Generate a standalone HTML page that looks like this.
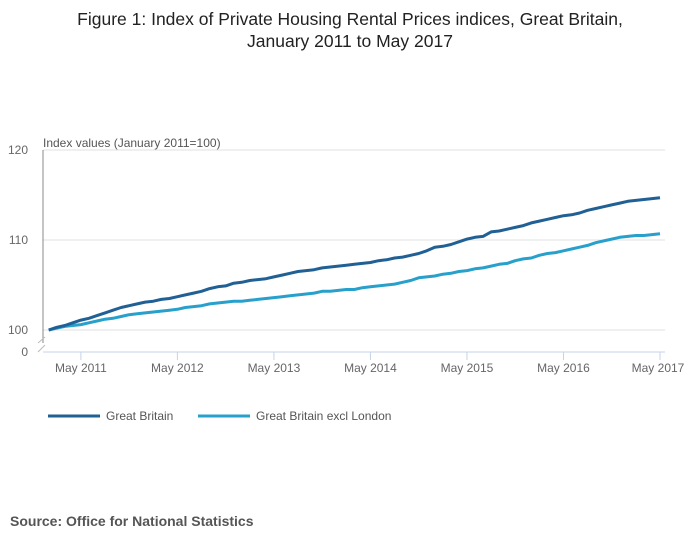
<!DOCTYPE html>
<html><head><meta charset="utf-8"><style>
body{margin:0;background:#fff;width:700px;height:549px;overflow:hidden;font-family:"Liberation Sans",sans-serif}
</style></head><body>
<svg width="700" height="549" font-family="Liberation Sans, sans-serif">
<text x="350" y="25" text-anchor="middle" font-size="17.5" fill="#222">Figure 1: Index of Private Housing Rental Prices indices, Great Britain,</text>
<text x="350" y="47" text-anchor="middle" font-size="17.5" fill="#222">January 2011 to May 2017</text>
<text x="43" y="147" font-size="12" fill="#555">Index values (January 2011=100)</text>
<g id="grid"></g>
<line x1="43" y1="150" x2="43" y2="343" stroke="#888"/>
<line x1="43" y1="352" x2="665" y2="352" stroke="#c5d3e8"/>
<path d="M38,343 L45,337 M38,352 L45,345" stroke="#bbb" fill="none"/>
<text x="28" y="356" text-anchor="end" font-size="12" fill="#666">0</text>
<g id="xt"></g>
<g id="lines"></g>
<line x1="48" y1="416" x2="100" y2="416" stroke="#206095" stroke-width="3"/>
<text x="106" y="420" font-size="12" fill="#555">Great Britain</text>
<line x1="198" y1="416" x2="250" y2="416" stroke="#27a0cc" stroke-width="3"/>
<text x="256" y="420" font-size="12" fill="#555">Great Britain excl London</text>
<text x="10" y="526" font-size="14" font-weight="bold" fill="#555">Source: Office for National Statistics</text>
</svg>
<script>
const yTicks=[100,110,120];
const xTickLabels=["May 2011","May 2012","May 2013","May 2014","May 2015","May 2016","May 2017"];
const xTickMonths=[4,16,28,40,52,64,76];
const gbValues=[100.0,100.3,100.5,100.8,101.1,101.3,101.6,101.9,102.2,102.5,102.7,102.9,
103.1,103.2,103.4,103.5,103.7,103.9,104.1,104.3,104.6,104.8,104.9,105.2,
105.3,105.5,105.6,105.7,105.9,106.1,106.3,106.5,106.6,106.7,106.9,107.0,
107.1,107.2,107.3,107.4,107.5,107.7,107.8,108.0,108.1,108.3,108.5,108.8,
109.2,109.3,109.5,109.8,110.1,110.3,110.4,110.9,111.0,111.2,111.4,111.6,
111.9,112.1,112.3,112.5,112.7,112.8,113.0,113.3,113.5,113.7,113.9,114.1,
114.3,114.4,114.5,114.6,114.7];
const exLondonValues=[100.0,100.2,100.4,100.5,100.6,100.8,101.0,101.2,101.3,101.5,101.7,101.8,
101.9,102.0,102.1,102.2,102.3,102.5,102.6,102.7,102.9,103.0,103.1,103.2,
103.2,103.3,103.4,103.5,103.6,103.7,103.8,103.9,104.0,104.1,104.3,104.3,
104.4,104.5,104.5,104.7,104.8,104.9,105.0,105.1,105.3,105.5,105.8,105.9,
106.0,106.2,106.3,106.5,106.6,106.8,106.9,107.1,107.3,107.4,107.7,107.9,
108.0,108.3,108.5,108.6,108.8,109.0,109.2,109.4,109.7,109.9,110.1,110.3,
110.4,110.5,110.5,110.6,110.7];
const NS="http://www.w3.org/2000/svg";
function xScale(m){return 48.7+m*(611.3/76);}
function yScale(v){return 330-(v-100)*9;}
const grid=document.getElementById('grid');
yTicks.forEach(v=>{
 const l=document.createElementNS(NS,'line');
 l.setAttribute('x1',43);l.setAttribute('x2',665);l.setAttribute('y1',yScale(v));l.setAttribute('y2',yScale(v));
 l.setAttribute('stroke','#e2e2e2');
 
 
 grid.appendChild(l);
 const t=document.createElementNS(NS,'text');
 t.setAttribute('x',28);t.setAttribute('y',yScale(v)+4);t.setAttribute('text-anchor','end');
 t.setAttribute('font-size','12');t.setAttribute('fill','#666');t.textContent=v;
 
 
 grid.appendChild(t);
});
const xt=document.getElementById('xt');
xTickMonths.forEach((m,i)=>{
 const x=xScale(m);
 const l=document.createElementNS(NS,'line');
 l.setAttribute('x1',x);l.setAttribute('x2',x);l.setAttribute('y1',352);l.setAttribute('y2',360);
 l.setAttribute('stroke','#c5d3e8');
 
 
 xt.appendChild(l);
 const t=document.createElementNS(NS,'text');
 t.setAttribute('x',i==xTickMonths.length-1?x-2:x);t.setAttribute('y',372);t.setAttribute('text-anchor','middle');
 t.setAttribute('font-size','12');t.setAttribute('fill','#666');t.textContent=xTickLabels[i];
 
 
 xt.appendChild(t);
});
const lines=document.getElementById('lines');
function drawLine(vals,color,name){
 const p=document.createElementNS(NS,'polyline');
 p.setAttribute('points',vals.map((v,i)=>xScale(i).toFixed(1)+','+yScale(v).toFixed(1)).join(' '));
 p.setAttribute('fill','none');p.setAttribute('stroke',color);p.setAttribute('stroke-width','3');p.setAttribute('stroke-linejoin','round');
 
 
 lines.appendChild(p);
}
drawLine(exLondonValues,'#27a0cc','line-gb-excl-london');
drawLine(gbValues,'#206095','line-great-britain');
</script>
</body></html>
